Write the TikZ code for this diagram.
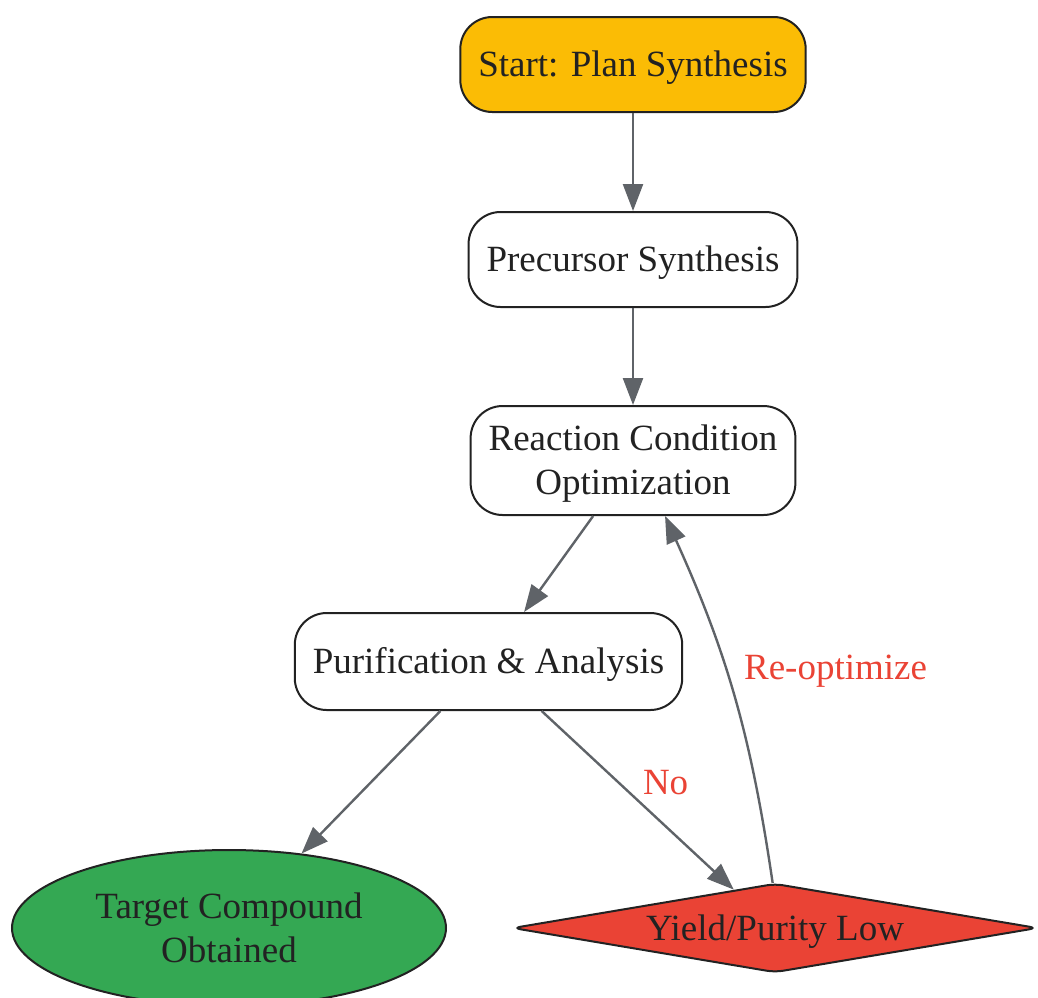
\documentclass[tikz,border=0pt]{standalone}
\usepackage{fontspec}
\setmainfont{Liberation Serif}
\usetikzlibrary{shapes.geometric, arrows.meta, positioning}
\definecolor{startyellow}{HTML}{FBBC05}
\definecolor{targetgreen}{HTML}{34A853}
\definecolor{lowred}{HTML}{EA4335}
\definecolor{edgegray}{HTML}{5F6368}
\definecolor{inkgray}{HTML}{222222}

\begin{document}
\begin{tikzpicture}[x=1pt, y=-1pt, ->, >={Triangle[length=27pt, width=20pt]}, node distance=195pt,
	font=\fontsize{37}{44}\selectfont, text=inkgray,
	box node/.style={rectangle, rounded corners=32pt, draw=inkgray, line width=2pt, fill=white, align=center, inner xsep=18pt, inner ysep=16pt, text depth=2pt, minimum height=95pt},
	edge line/.style={draw=edgegray, line width=2.4pt},
	edge label/.style={text=lowred}]

			\useasboundingbox (0,0) rectangle (1038,997);

			\node[box node, fill=startyellow] (start) at (633,64.5) {Start: Plan Synthesis};
			\node[box node] (prec) [below of=start] {Precursor Synthesis};
			\node[box node, node distance=201pt, minimum height=109pt] (reac) [below of=prec] {Reaction Condition\\Optimization};
			\node[box node, node distance=201pt, xshift=-144.5pt, minimum height=97pt] (purif) [below of=reac] {Purification \& Analysis};

			\node[ellipse, draw=inkgray, line width=2pt, fill=targetgreen, align=center, inner sep=0pt, minimum width=434pt, minimum height=156pt] (target) at (229,928) {Target Compound\\Obtained};
			\node[diamond, draw=inkgray, line width=2pt, fill=lowred, rounded corners=8pt, aspect=5.9, inner sep=0pt, text depth=0pt, minimum width=525pt, minimum height=89pt] (low) at (775,928) {Yield/Purity Low};

			% main line
			\draw[edge line] (start) -- (prec);
			\draw[edge line] (prec) -- (reac);
			\draw[edge line] (reac) -- (purif);
			\draw[edge line] (purif) -- (target);

			% loop back
			\draw[edge line] (purif) -- node[edge label, pos=0.4, right=20pt] {No} (low);
			\draw[edge line] (low.93) to [bend right=8] node[edge label, pos=0.57, right=13pt] {Re-optimize} (reac.-60);

		\end{tikzpicture}
\end{document}
